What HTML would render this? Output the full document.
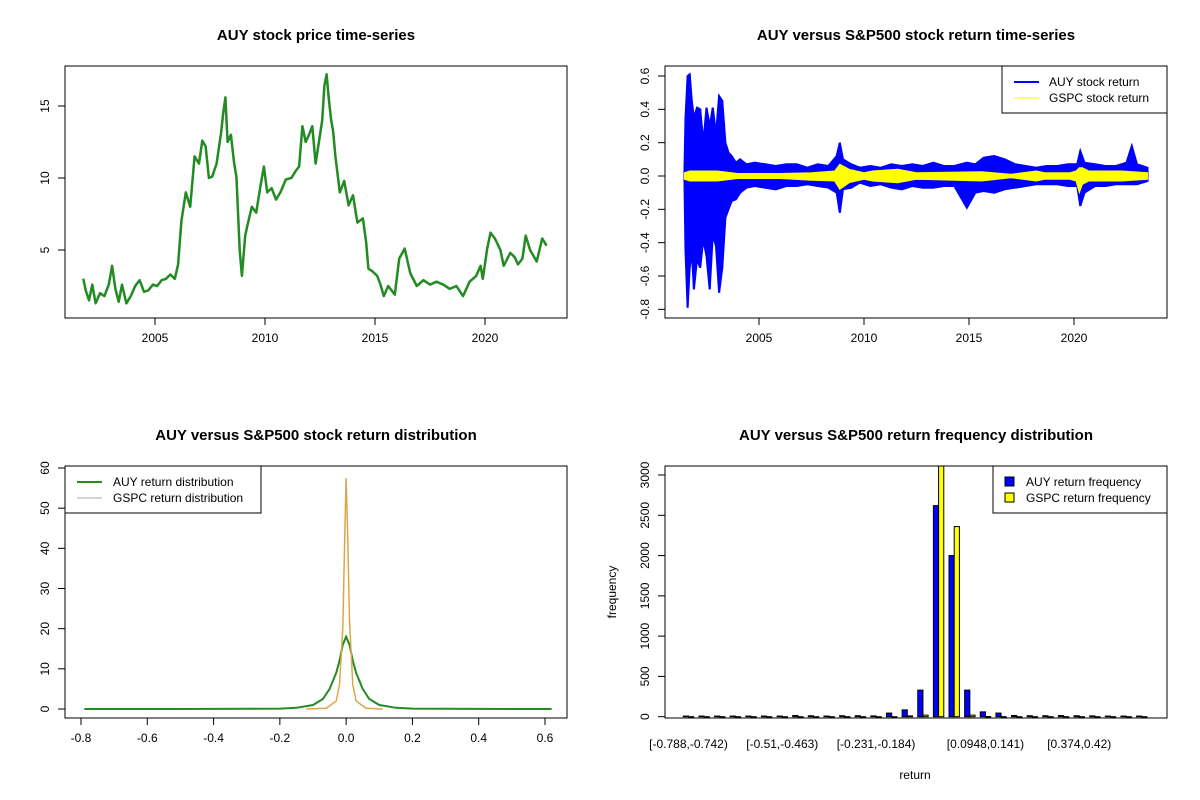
<!DOCTYPE html>
<html><head><meta charset="utf-8"><style>
html,body{margin:0;padding:0;background:#fff}
svg{display:block;font-family:"Liberation Sans",Arial,sans-serif}
</style></head><body>
<svg id="c" width="1200" height="800" viewBox="0 0 1200 800"></svg>
<script>
// ---- data: price ----
const priceYears=[2001.74,2001.85,2002.0,2002.15,2002.3,2002.5,2002.7,2002.9,2003.05,2003.2,2003.35,2003.5,2003.7,2003.9,2004.1,2004.3,2004.5,2004.7,2004.9,2005.1,2005.3,2005.5,2005.7,2005.9,2006.05,2006.2,2006.4,2006.6,2006.8,2007.0,2007.15,2007.3,2007.45,2007.6,2007.8,2008.0,2008.1,2008.2,2008.3,2008.45,2008.6,2008.7,2008.85,2008.95,2009.1,2009.2,2009.4,2009.6,2009.8,2009.95,2010.1,2010.3,2010.5,2010.7,2010.95,2011.2,2011.4,2011.55,2011.7,2011.85,2012.0,2012.15,2012.3,2012.45,2012.6,2012.7,2012.8,2012.9,2013.0,2013.1,2013.2,2013.4,2013.6,2013.8,2014.0,2014.2,2014.45,2014.6,2014.7,2014.9,2015.1,2015.25,2015.4,2015.6,2015.9,2016.1,2016.35,2016.6,2016.9,2017.2,2017.5,2017.8,2018.1,2018.4,2018.7,2019.0,2019.3,2019.6,2019.8,2019.9,2020.1,2020.25,2020.45,2020.7,2020.85,2021.15,2021.35,2021.5,2021.7,2021.85,2022.05,2022.2,2022.35,2022.6,2022.8];
const priceVals=[3.0,2.2,1.5,2.6,1.3,2.0,1.8,2.6,3.9,2.3,1.4,2.6,1.3,1.8,2.5,2.9,2.1,2.2,2.6,2.5,2.9,3.0,3.3,3.0,4.0,7.0,9.0,8.0,11.5,11.0,12.6,12.2,10.0,10.1,11.0,13.1,14.5,15.6,12.5,13.0,11.0,10.1,5.0,3.2,6.0,6.7,8.0,7.6,9.5,10.8,9.0,9.3,8.5,9.0,9.9,10.0,10.5,10.8,13.6,12.5,13.0,13.6,11.0,12.5,14.0,16.4,17.2,15.5,14.1,13.2,11.5,9.0,9.8,8.1,8.8,6.9,7.2,5.5,3.7,3.5,3.2,2.6,1.8,2.5,1.9,4.4,5.1,3.4,2.5,2.9,2.6,2.8,2.6,2.3,2.5,1.8,2.8,3.2,3.9,3.0,5.1,6.2,5.8,5.0,3.9,4.8,4.5,4.0,4.4,6.0,5.0,4.6,4.2,5.8,5.3];
// ---- data: returns envelope ----
const auyDates=[2001.45,2001.5,2001.6,2001.7,2001.8,2001.9,2002.05,2002.2,2002.35,2002.5,2002.65,2002.8,2002.95,2003.1,2003.25,2003.4,2003.55,2003.7,2003.9,2004.1,2004.4,2004.8,2005.3,2005.8,2006.3,2006.8,2007.3,2007.8,2008.3,2008.7,2008.85,2009.0,2009.4,2009.8,2010.3,2010.8,2011.3,2011.8,2012.3,2012.8,2013.3,2013.8,2014.3,2014.9,2015.3,2015.7,2016.2,2016.7,2017.2,2017.7,2018.2,2018.7,2019.2,2019.7,2020.15,2020.3,2020.5,2021.0,2021.5,2022.0,2022.5,2022.75,2023.0,2023.5];
const auyHi=[0.05,0.35,0.60,0.61,0.45,0.35,0.41,0.40,0.20,0.41,0.30,0.41,0.25,0.48,0.45,0.20,0.14,0.12,0.08,0.10,0.07,0.08,0.07,0.06,0.07,0.07,0.05,0.07,0.06,0.12,0.20,0.10,0.07,0.05,0.06,0.05,0.07,0.06,0.07,0.06,0.08,0.06,0.06,0.08,0.07,0.11,0.12,0.10,0.07,0.06,0.05,0.06,0.06,0.07,0.07,0.15,0.08,0.07,0.06,0.06,0.08,0.18,0.07,0.05];
const auyLo=[-0.05,-0.45,-0.79,-0.55,-0.45,-0.68,-0.50,-0.55,-0.38,-0.48,-0.68,-0.35,-0.42,-0.70,-0.55,-0.25,-0.20,-0.15,-0.14,-0.10,-0.07,-0.06,-0.07,-0.08,-0.06,-0.06,-0.05,-0.06,-0.07,-0.10,-0.22,-0.08,-0.07,-0.04,-0.06,-0.05,-0.07,-0.08,-0.06,-0.07,-0.07,-0.06,-0.06,-0.19,-0.10,-0.09,-0.10,-0.08,-0.07,-0.06,-0.05,-0.05,-0.05,-0.06,-0.06,-0.18,-0.10,-0.06,-0.06,-0.05,-0.05,-0.05,-0.05,-0.03];
const gspcDates=[2001.45,2001.7,2002.5,2003.0,2004.0,2006.0,2007.5,2008.6,2008.85,2009.3,2010.0,2010.4,2011.6,2012.5,2015.6,2017.0,2018.2,2018.6,2019.8,2020.1,2020.25,2020.4,2020.7,2022.3,2023.5];
const gspcHi=[0.02,0.03,0.03,0.03,0.015,0.015,0.02,0.03,0.07,0.04,0.02,0.03,0.04,0.02,0.025,0.01,0.03,0.02,0.02,0.03,0.05,0.05,0.03,0.03,0.02];
const gspcLo=[-0.02,-0.03,-0.03,-0.03,-0.015,-0.015,-0.025,-0.03,-0.08,-0.04,-0.02,-0.03,-0.04,-0.02,-0.03,-0.01,-0.03,-0.02,-0.02,-0.03,-0.10,-0.05,-0.03,-0.03,-0.02];
// ---- data: densities ----
const auyDensX=[-0.79,-0.5,-0.3,-0.2,-0.15,-0.1,-0.07,-0.05,-0.03,-0.02,-0.01,0,0.01,0.02,0.03,0.05,0.07,0.1,0.15,0.2,0.4,0.62];
const auyDensY=[0,0,0.05,0.1,0.3,1,2.5,5,9,12,16,18,16,12,9,5,2.5,1,0.3,0.1,0.02,0];
const gspcDensX=[-0.12,-0.06,-0.03,-0.02,-0.01,-0.005,0,0.005,0.01,0.02,0.03,0.06,0.11];
const gspcDensY=[0,0.2,2,6,20,40,57.5,42,22,6,2,0.2,0];
// ---- data: histogram ----
const binLabels=["[-0.788,-0.742)","[-0.51,-0.463)","[-0.231,-0.184)","[0.0948,0.141)","[0.374,0.42)"];
const binLabelIdx=[0,6,12,19,25];
const auyFreq=[8,8,8,8,8,8,8,15,12,8,12,12,10,45,85,330,2620,2000,330,60,45,15,12,12,14,12,10,8,8,8];
const gspcFreq=[0,0,0,0,0,0,0,0,0,0,0,0,0,0,10,20,3120,2360,20,2,0,0,0,0,0,0,0,0,0,0];

const NS="http://www.w3.org/2000/svg";
const svg=document.getElementById('c');
function el(t,a,p){const e=document.createElementNS(NS,t);for(const k in a)e.setAttribute(k,a[k]);(p||svg).appendChild(e);return e;}
function txt(s,x,y,a,p){const e=el('text',Object.assign({x:x,y:y,'font-size':12,fill:'#000','text-anchor':'middle'},a||{}),p);e.textContent=s;return e;}
function lin(d0,d1,r0,r1){return v=>r0+(v-d0)*(r1-r0)/(d1-d0);}
function panel(name,x0,y0,x1,y1,title){
  const g=el('g',{});
  
  
  const t=txt(title,(x0+x1)/2,y0-26,{'font-size':15,'font-weight':'bold'},g);
  
  
  return g;
}
function box(g,x0,y0,x1,y1){const r=el('rect',{x:x0,y:y0,width:x1-x0,height:y1-y0,fill:'none',stroke:'#000','stroke-width':1},g);
  
  }
function xAxis(g,ticks,labels,sx,yb){
  const ax=el('g',{},g);
  
  
  el('line',{x1:sx(ticks[0]),x2:sx(ticks[ticks.length-1]),y1:yb,y2:yb,stroke:'#000'},ax);
  ticks.forEach((t,i)=>{el('line',{x1:sx(t),x2:sx(t),y1:yb,y2:yb+7,stroke:'#000'},ax);
    const l=txt(labels[i],sx(t),yb+24,{},ax);
    
    });
}
function yAxis(g,ticks,labels,sy,xl){
  const ax=el('g',{},g);
  
  
  el('line',{x1:xl,x2:xl,y1:sy(ticks[0]),y2:sy(ticks[ticks.length-1]),stroke:'#000'},ax);
  ticks.forEach((t,i)=>{const y=sy(t);el('line',{x1:xl,x2:xl-7,y1:y,y2:y,stroke:'#000'},ax);
    const l=txt(labels[i],xl-16,y,{transform:`rotate(-90 ${xl-16} ${y})`},ax);
    
    });
}
function pts(xs,ys,sx,sy){return xs.map((v,i)=>sx(v).toFixed(1)+','+sy(ys[i]).toFixed(1)).join(' ');}

// ---- Panel 1 ----
{const X0=65,Y0=66,X1=567,Y1=318;
 const g=panel('price-chart',X0,Y0,X1,Y1,'AUY stock price time-series');
 const sx=lin(2005,2020,155,485), sy=lin(5,15,250,106);
 const p=el('polyline',{points:pts(priceYears,priceVals,sx,sy),fill:'none',stroke:'#228b22','stroke-width':2.5,'stroke-linejoin':'round'},g);
 
 
 box(g,X0,Y0,X1,Y1);
 xAxis(g,[2005,2010,2015,2020],['2005','2010','2015','2020'],sx,Y1);
 yAxis(g,[5,10,15],['5','10','15'],sy,X0);
}
// ---- Panel 2 ----
{const X0=665,Y0=66,X1=1167,Y1=318;
 const g=panel('return-timeseries-chart',X0,Y0,X1,Y1,'AUY versus S&P500 stock return time-series');
 const sx=lin(2005,2020,759,1074), sy=lin(0,0.6,176,76);
 function band(d,hi,lo,col,name,w){
   const poly=d.map((v,i)=>sx(v).toFixed(1)+','+sy(hi[i]).toFixed(1)).concat(d.slice().reverse().map((v,j)=>{const i=d.length-1-j;return sx(v).toFixed(1)+','+sy(lo[i]).toFixed(1);})).join(' ');
   const b=el('polygon',{points:poly,fill:col,stroke:col,'stroke-width':w},g);
   
   
   d.forEach((v,i)=>{const s=el('line',{x1:sx(v),x2:sx(v),y1:sy(hi[i]),y2:sy(lo[i]),stroke:col,'stroke-width':w},g);
     
     });
 }
 band(auyDates,auyHi,auyLo,'#0000ff','auy-return-series',2);
 band(gspcDates,gspcHi,gspcLo,'#ffff00','gspc-return-series',1);
 box(g,X0,Y0,X1,Y1);
 xAxis(g,[2005,2010,2015,2020],['2005','2010','2015','2020'],sx,Y1);
 const yt=[-0.8,-0.6,-0.4,-0.2,0,0.2,0.4,0.6];
 yAxis(g,yt,yt.map(v=>v.toFixed(1)),sy,X0);
 const lg=el('g',{},g);
 
 
 el('rect',{x:1002,y:66,width:165,height:47,fill:'#fff',stroke:'#000'},lg);
 el('line',{x1:1014,x2:1039,y1:82,y2:82,stroke:'#0000ff','stroke-width':2},lg);
 el('line',{x1:1014,x2:1039,y1:98,y2:98,stroke:'#ffff00','stroke-width':1},lg);
 txt('AUY stock return',1049,86,{'text-anchor':'start'},lg);
 txt('GSPC stock return',1049,102,{'text-anchor':'start'},lg);
}
// ---- Panel 3 ----
{const X0=65,Y0=466,X1=567,Y1=718;
 const g=panel('return-density-chart',X0,Y0,X1,Y1,'AUY versus S&P500 stock return distribution');
 const sx=lin(-0.8,0.6,81,545), sy=lin(0,60,709,468);
 const a=el('polyline',{points:pts(auyDensX,auyDensY,sx,sy),fill:'none',stroke:'#228b22','stroke-width':2},g);
 
 
 const b=el('polyline',{points:pts(gspcDensX,gspcDensY,sx,sy),fill:'none',stroke:'#ffa500','stroke-width':1.5},g);
 
 
 const c=el('polyline',{points:pts(gspcDensX,gspcDensY,sx,sy),fill:'none',stroke:'#aaaaaa','stroke-width':0.6},g);
 
 
 box(g,X0,Y0,X1,Y1);
 const xt=[-0.8,-0.6,-0.4,-0.2,0,0.2,0.4,0.6];
 xAxis(g,xt,xt.map(v=>v.toFixed(1)),sx,Y1);
 const yt=[0,10,20,30,40,50,60];
 yAxis(g,yt,yt.map(String),sy,X0);
 const lg=el('g',{},g);
 
 
 el('rect',{x:65,y:466,width:196,height:47,fill:'#fff',stroke:'#000'},lg);
 el('line',{x1:77,x2:102,y1:482,y2:482,stroke:'#228b22','stroke-width':2},lg);
 el('line',{x1:77,x2:102,y1:498,y2:498,stroke:'#aaaaaa','stroke-width':1},lg);
 txt('AUY return distribution',113,486,{'text-anchor':'start'},lg);
 txt('GSPC return distribution',113,502,{'text-anchor':'start'},lg);
}
// ---- Panel 4 ----
{const X0=665,Y0=466,X1=1167,Y1=718;
 const g=panel('return-histogram-chart',X0,Y0,X1,Y1,'AUY versus S&P500 return frequency distribution');
 const sy=lin(0,3000,716.7,475);
 const gx=i=>683.3+i*15.63, bw=5.2;
 const cp=el('clipPath',{id:'hc'},g);
 el('rect',{x:X0,y:Y0,width:X1-X0,height:Y1-Y0},cp);
 const bars=el('g',{'clip-path':'url(#hc)'},g);
 auyFreq.forEach((v,i)=>{const r=el('rect',{x:gx(i),y:sy(v),width:bw,height:Math.max(0.5,sy(0)-sy(v)),fill:'#0000ff',stroke:'#000','stroke-width':1},bars);
   
   });
 gspcFreq.forEach((v,i)=>{const r=el('rect',{x:gx(i)+bw,y:sy(v),width:bw,height:Math.max(0.5,sy(0)-sy(v)),fill:'#ffff00',stroke:'#000','stroke-width':1},bars);
   
   });
 box(g,X0,Y0,X1,Y1);
 binLabels.forEach((s,k)=>{const l=txt(s,gx(binLabelIdx[k])+bw,748,{},g);
   
   });
 const yt=[0,500,1000,1500,2000,2500,3000];
 yAxis(g,yt,yt.map(String),sy,X0);
 const xl=txt('return',915,779,{},g);
 
 
 const yl=txt('frequency',616,592,{transform:'rotate(-90 616 592)'},g);
 
 
 const lg=el('g',{},g);
 
 
 el('rect',{x:993,y:466,width:174,height:47,fill:'#fff',stroke:'#000'},lg);
 el('rect',{x:1005,y:477,width:9,height:9,fill:'#0000ff',stroke:'#000'},lg);
 el('rect',{x:1005,y:493,width:9,height:9,fill:'#ffff00',stroke:'#000'},lg);
 txt('AUY return frequency',1026,486,{'text-anchor':'start'},lg);
 txt('GSPC return frequency',1026,502,{'text-anchor':'start'},lg);
}
</script>
</body></html>
